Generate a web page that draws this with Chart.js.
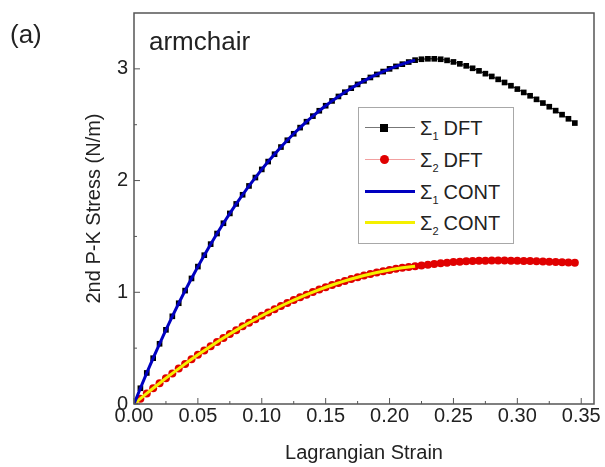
<!DOCTYPE html>
<html>
<head>
<meta charset="utf-8">
<script src="https://cdn.jsdelivr.net/npm/chart.js@4.4.1/dist/chart.umd.min.js"></script>
<style>
  body { margin: 0; background: #fff; }
  #wrap { position: relative; width: 605px; height: 467px; font-family: "Liberation Sans", Arial, sans-serif; color: #222; }
  .lbl { position: absolute; line-height: 1; white-space: nowrap; }
  #legend { position: absolute; left: 358px; top: 107px; width: 154px; height: 135px; border: 1px solid #a8a8a8; background: #fff; }
  .row { position: absolute; left: 0; height: 24px; width: 154px; }
  .sample { position: absolute; left: 6px; top: 11px; width: 50px; }
  .mark { position: absolute; left: 21px; }
  .txt { position: absolute; left: 61px; top: 2px; font-size: 20px; line-height: 20px; }
  .txt sub { font-size: 11px; vertical-align: -5px; margin-right: 5px; }
</style>
</head>
<body>
<div id="wrap">
  <canvas id="stressChart" width="605" height="467"></canvas>
  <div class="lbl" style="left:10px; top:21px; font-size:26px;">(a)</div>
  <div class="lbl" style="left:149px; top:28px; font-size:26px;">armchair</div>
  <div id="legend">
    <div class="row" style="top:8px;">
      <div class="sample" style="height:1px; background:#777;"></div>
      <div class="mark" style="top:8px; width:8px; height:8px; background:#000;"></div>
      <div class="txt">Σ<sub>1</sub>DFT</div>
    </div>
    <div class="row" style="top:40px;">
      <div class="sample" style="height:1px; background:#f2a0a0;"></div>
      <div class="mark" style="top:7px; width:9px; height:9px; border-radius:50%; background:#e00000;"></div>
      <div class="txt">Σ<sub>2</sub>DFT</div>
    </div>
    <div class="row" style="top:72px;">
      <div class="sample" style="top:10px; height:3px; background:#0000c0;"></div>
      <div class="txt">Σ<sub>1</sub>CONT</div>
    </div>
    <div class="row" style="top:103px;">
      <div class="sample" style="top:10px; height:3px; background:#f4f000;"></div>
      <div class="txt">Σ<sub>2</sub>CONT</div>
    </div>
  </div>
</div>
<script>
// Lagrangian strain (x) for the DFT points
const strain = [
  0.000, 0.005, 0.010, 0.015, 0.020, 0.025, 0.030, 0.035, 0.040, 0.045,
  0.050, 0.055, 0.060, 0.065, 0.070, 0.075, 0.080, 0.085, 0.090, 0.095,
  0.100, 0.105, 0.110, 0.115, 0.120, 0.125, 0.130, 0.135, 0.140, 0.145,
  0.150, 0.155, 0.160, 0.165, 0.170, 0.175, 0.180, 0.185, 0.190, 0.195,
  0.200, 0.205, 0.210, 0.215, 0.220, 0.225, 0.230, 0.235, 0.240, 0.245,
  0.250, 0.255, 0.260, 0.265, 0.270, 0.275, 0.280, 0.285, 0.290, 0.295,
  0.300, 0.305, 0.310, 0.315, 0.320, 0.325, 0.330, 0.335, 0.340, 0.345
];

// 2nd P-K stress, N/m
const sigma1Dft = [
  0.000, 0.141, 0.278, 0.410, 0.539, 0.664, 0.785, 0.902, 1.015, 1.124,
  1.230, 1.332, 1.431, 1.526, 1.618, 1.706, 1.791, 1.873, 1.952, 2.027,
  2.100, 2.170, 2.236, 2.300, 2.361, 2.419, 2.474, 2.527, 2.577, 2.625,
  2.670, 2.713, 2.753, 2.791, 2.827, 2.861, 2.893, 2.923, 2.950, 2.976,
  3.000, 3.022, 3.042, 3.061, 3.078, 3.086, 3.090, 3.090, 3.086, 3.076,
  3.062, 3.045, 3.027, 3.005, 2.982, 2.957, 2.932, 2.906, 2.878, 2.849,
  2.819, 2.789, 2.759, 2.727, 2.694, 2.661, 2.626, 2.590, 2.553, 2.515
];
const sigma2Dft = [
  0.000, 0.048, 0.095, 0.141, 0.186, 0.231, 0.274, 0.317, 0.359, 0.400,
  0.440, 0.479, 0.517, 0.555, 0.591, 0.627, 0.661, 0.695, 0.727, 0.759,
  0.790, 0.820, 0.849, 0.877, 0.904, 0.930, 0.955, 0.979, 1.002, 1.024,
  1.045, 1.065, 1.084, 1.102, 1.119, 1.135, 1.150, 1.164, 1.177, 1.189,
  1.200, 1.210, 1.219, 1.226, 1.233, 1.240, 1.247, 1.254, 1.260, 1.265,
  1.270, 1.274, 1.277, 1.280, 1.282, 1.283, 1.284, 1.284, 1.284, 1.283,
  1.282, 1.281, 1.279, 1.277, 1.275, 1.273, 1.271, 1.269, 1.267, 1.265
];

// continuum model curves stop at this strain
const contEnd = 0.22;

const xTicks = [0, 0.05, 0.10, 0.15, 0.20, 0.25, 0.30, 0.35];
const xMinorTicks = [0.025, 0.075, 0.125, 0.175, 0.225, 0.275, 0.325];
const yTicks = [0, 1, 2, 3];
const yMinorTicks = [0.5, 1.5, 2.5];

function toPoints(xs, ys, limit) {
    const pts = [];
    for (let i = 0; i < xs.length; i++) {
        if (limit !== undefined && xs[i] > limit + 1e-9) break;
        pts.push({ x: xs[i], y: ys[i] });
    }
    return pts;
}

// frame + inward tick marks like the original plot
const frameTicks = {
    id: 'frameTicks',
    afterDraw(chart) {
        const { ctx, chartArea: a, scales: { x, y } } = chart;
        ctx.save();
        ctx.strokeStyle = '#555';
        ctx.lineWidth = 1;
        const tick = (px, len, vertical) => {
            ctx.beginPath();
            if (vertical) { ctx.moveTo(px, a.bottom); ctx.lineTo(px, a.bottom - len); }
            else { ctx.moveTo(a.left, px); ctx.lineTo(a.left + len, px); }
            ctx.stroke();
        };
        xTicks.forEach(v => tick(x.getPixelForValue(v), 6, true));
        xMinorTicks.forEach(v => tick(x.getPixelForValue(v), 3, true));
        yTicks.forEach(v => tick(y.getPixelForValue(v), 6, false));
        yMinorTicks.forEach(v => tick(y.getPixelForValue(v), 3, false));
        ctx.lineWidth = 1.5;
        ctx.strokeRect(a.left, a.top, a.right - a.left, a.bottom - a.top);
        ctx.restore();
    }
};

const textColor = '#222';
const fontFamily = '"Liberation Sans", Arial, sans-serif';

new Chart(document.getElementById('stressChart'), {
    type: 'scatter',
    data: {
        datasets: [
            {
                label: 'Σ1 CONT',
                data: toPoints(strain, sigma1Dft, contEnd),
                showLine: true,
                borderColor: '#0000c0',
                borderWidth: 3,
                pointRadius: 0,
                order: 0
            },
            {
                label: 'Σ2 CONT',
                data: toPoints(strain, sigma2Dft, contEnd),
                showLine: true,
                borderColor: '#f4f000',
                borderWidth: 3,
                pointRadius: 0,
                order: 0
            },
            {
                label: 'Σ1 DFT',
                data: toPoints(strain, sigma1Dft),
                showLine: true,
                borderColor: '#000',
                borderWidth: 1,
                pointStyle: 'rect',
                pointRadius: 4,
                backgroundColor: '#000',
                pointBorderWidth: 0,
                order: 1
            },
            {
                label: 'Σ2 DFT',
                data: toPoints(strain, sigma2Dft),
                showLine: true,
                borderColor: '#e00000',
                borderWidth: 1,
                pointStyle: 'circle',
                pointRadius: 4,
                backgroundColor: '#e00000',
                pointBorderWidth: 0,
                order: 1
            }
        ]
    },
    options: {
        responsive: false,
        animation: false,
        layout: { padding: { top: 13, right: 11, left: 0, bottom: 0 } },
        plugins: {
            legend: { display: false },
            tooltip: { enabled: false }
        },
        scales: {
            x: {
                type: 'linear',
                min: 0,
                max: 0.36,
                afterBuildTicks: s => { s.ticks = xTicks.map(v => ({ value: v })); },
                afterFit: s => { s.height = 63; s.paddingLeft = 0; s.paddingRight = 0; },
                grid: { display: false, drawTicks: false },
                border: { display: false },
                ticks: {
                    padding: 0,
                    color: textColor,
                    font: { family: fontFamily, size: 20 },
                    callback: v => v.toFixed(2)
                },
                title: {
                    display: true,
                    text: 'Lagrangian Strain',
                    color: textColor,
                    font: { family: fontFamily, size: 20 },
                    padding: { top: 0, bottom: 2 }
                }
            },
            y: {
                type: 'linear',
                min: 0,
                max: 3.5,
                afterBuildTicks: s => { s.ticks = yTicks.map(v => ({ value: v })); },
                afterFit: s => { s.width = 134; s.paddingTop = 0; s.paddingBottom = 0; },
                grid: { display: false, drawTicks: false },
                border: { display: false },
                ticks: {
                    padding: 6,
                    color: textColor,
                    font: { family: fontFamily, size: 20 },
                    callback: v => String(v)
                },
                title: {
                    display: true,
                    text: '2nd P-K Stress (N/m)',
                    color: textColor,
                    font: { family: fontFamily, size: 20 },
                    padding: { top: 82, bottom: 0 }
                }
            }
        }
    },
    plugins: [frameTicks]
});
</script>
</body>
</html>
